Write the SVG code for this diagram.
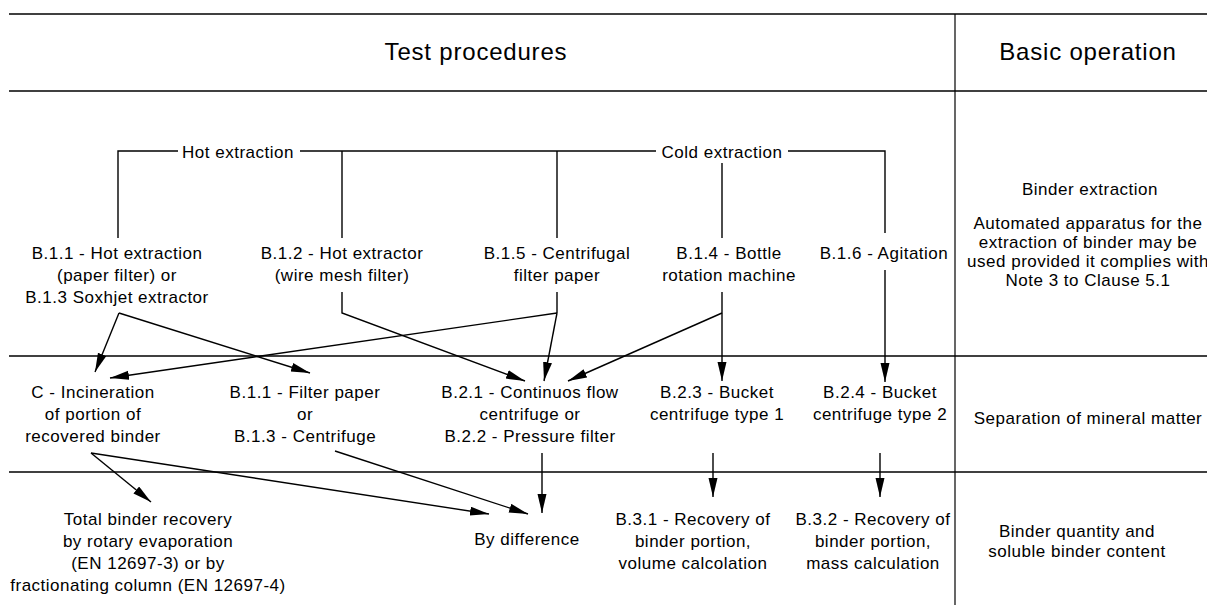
<svg xmlns="http://www.w3.org/2000/svg" width="1207" height="605" viewBox="0 0 1207 605">
<style>
text{font-family:"Liberation Sans",Arial,sans-serif;font-size:17px;letter-spacing:0.5px;fill:#000;text-anchor:middle}
.hdr{font-size:24px;letter-spacing:0.8px}
.grid{stroke:#000;stroke-width:1.6;fill:none}
.col{stroke:#000;stroke-width:1.2;fill:none}
.c{stroke:#000;stroke-width:1.4;fill:none}
.a{stroke:#000;stroke-width:1.4;fill:none;marker-end:url(#ah)}
</style>
<defs>
<marker id="ah" markerUnits="userSpaceOnUse" markerWidth="20" markerHeight="10" refX="19" refY="4.5" orient="auto">
<path d="M0,0 L19,4.5 L0,9 z" fill="#000"/>
</marker>
</defs>
<rect width="1207" height="605" fill="#fff"/>
<g id="table">
<line class="grid" x1="9" y1="14" x2="1207" y2="14"/>
<line class="grid" x1="9" y1="91" x2="1207" y2="91"/>
<line class="grid" x1="9" y1="356" x2="1207" y2="356"/>
<line class="grid" x1="9" y1="472" x2="1207" y2="472"/>
<line class="col" x1="955" y1="14" x2="955" y2="605"/>
</g>
<g id="header">
<text class="hdr" x="476" y="60">Test procedures</text>
<text class="hdr" x="1088" y="60">Basic operation</text>
</g>
<g id="connectors">
<polyline class="c" points="118,238 118,151 178,151"/>
<line class="c" x1="300" y1="151" x2="656" y2="151"/>
<polyline class="c" points="788,151 885,151 885,233"/>
<line class="c" x1="342" y1="151" x2="342" y2="238"/>
<line class="c" x1="557" y1="151" x2="557" y2="238"/>
<line class="c" x1="722" y1="163" x2="722" y2="238"/>
<line class="a" x1="119" y1="313" x2="95" y2="372"/>
<line class="a" x1="119" y1="313" x2="310" y2="373"/>
<polyline class="a" points="342,292 342,313 525,381"/>
<polyline class="c" points="557,292 557,313"/>
<line class="a" x1="557" y1="313" x2="110" y2="378"/>
<line class="a" x1="557" y1="313" x2="544" y2="381"/>
<line class="a" x1="722" y1="292" x2="722" y2="381"/>
<line class="a" x1="722" y1="313" x2="568" y2="381"/>
<line class="a" x1="885" y1="270" x2="885" y2="382"/>
<line class="a" x1="91" y1="453" x2="151" y2="502"/>
<line class="a" x1="91" y1="453" x2="489" y2="514"/>
<line class="a" x1="335" y1="451" x2="528" y2="514"/>
<line class="a" x1="542" y1="453" x2="542" y2="513"/>
<line class="a" x1="713" y1="453" x2="713" y2="497"/>
<line class="a" x1="880" y1="453" x2="880" y2="497"/>
</g>
<g id="hot-extraction"><text x="238" y="158">Hot extraction</text></g>
<g id="cold-extraction"><text x="722" y="158">Cold extraction</text></g>
<g id="b11-extraction">
<text x="117" y="259">B.1.1 - Hot extraction</text>
<text x="117" y="281">(paper filter) or</text>
<text x="117" y="303">B.1.3 Soxhjet extractor</text>
</g>
<g id="b12">
<text x="342" y="259">B.1.2 - Hot extractor</text>
<text x="342" y="281">(wire mesh filter)</text>
</g>
<g id="b15">
<text x="557" y="259">B.1.5 - Centrifugal</text>
<text x="557" y="281">filter paper</text>
</g>
<g id="b14">
<text x="729" y="259">B.1.4 - Bottle</text>
<text x="729" y="281">rotation machine</text>
</g>
<g id="b16"><text x="884" y="259">B.1.6 - Agitation</text></g>
<g id="op-extraction">
<text x="1090" y="195">Binder extraction</text>
<text x="1088" y="229">Automated apparatus for the</text>
<text x="1088" y="248">extraction of binder may be</text>
<text x="1088" y="267">used provided it complies with</text>
<text x="1088" y="286">Note 3 to Clause 5.1</text>
</g>
<g id="c-incineration">
<text x="93" y="398">C - Incineration</text>
<text x="93" y="420">of portion of</text>
<text x="93" y="442">recovered binder</text>
</g>
<g id="b11-filter">
<text x="305" y="398">B.1.1 - Filter paper</text>
<text x="305" y="420">or</text>
<text x="305" y="442">B.1.3 - Centrifuge</text>
</g>
<g id="b21">
<text x="530" y="398">B.2.1 - Continuos flow</text>
<text x="530" y="420">centrifuge or</text>
<text x="530" y="442">B.2.2 - Pressure filter</text>
</g>
<g id="b23">
<text x="717" y="398">B.2.3 - Bucket</text>
<text x="717" y="420">centrifuge type 1</text>
</g>
<g id="b24">
<text x="880" y="398">B.2.4 - Bucket</text>
<text x="880" y="420">centrifuge type 2</text>
</g>
<g id="op-separation"><text x="1088" y="424">Separation of mineral matter</text></g>
<g id="total-recovery">
<text x="148" y="525">Total binder recovery</text>
<text x="148" y="547">by rotary evaporation</text>
<text x="148" y="569">(EN 12697-3) or by</text>
<text x="148" y="591">fractionating column (EN 12697-4)</text>
</g>
<g id="by-difference"><text x="527" y="545">By difference</text></g>
<g id="b31">
<text x="693" y="525">B.3.1 - Recovery of</text>
<text x="693" y="547">binder portion,</text>
<text x="693" y="569">volume calcolation</text>
</g>
<g id="b32">
<text x="873" y="525">B.3.2 - Recovery of</text>
<text x="873" y="547">binder portion,</text>
<text x="873" y="569">mass calculation</text>
</g>
<g id="op-quantity">
<text x="1077" y="537">Binder quantity and</text>
<text x="1077" y="557">soluble binder content</text>
</g>
</svg>
